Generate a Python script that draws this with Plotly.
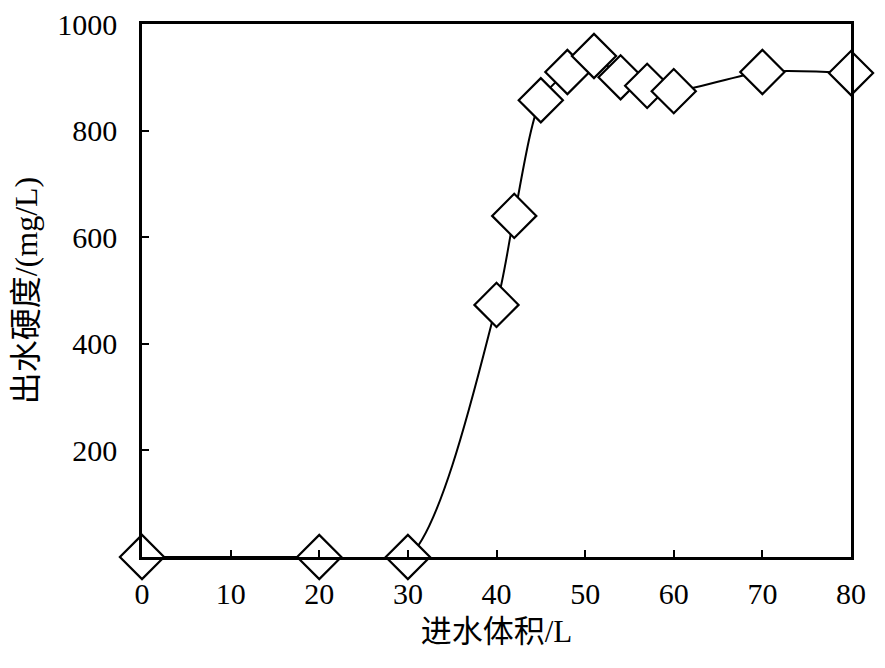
import plotly.graph_objects as go

x_vals = [0, 20, 30, 40, 42, 45, 48, 51, 54, 57, 60, 70, 80]
y_vals = [0, 0, 0, 473, 640, 857, 910, 940, 900, 884, 874, 910, 908]

x_ticks = [0, 10, 20, 30, 40, 50, 60, 70, 80]
y_ticks = [200, 400, 600, 800, 1000]

font_main = "Times New Roman, Liberation Serif, Noto Sans CJK SC, serif"

fig = go.Figure()
fig.add_trace(go.Scatter(
    x=x_vals, y=y_vals,
    mode="lines+markers",
    line=dict(color="black", width=2, shape="spline", smoothing=0.8),
    marker=dict(symbol="diamond", size=34, color="white",
                line=dict(color="black", width=2.2)),
    cliponaxis=False,
    showlegend=False,
))

fig.update_layout(
    width=877, height=660,
    margin=dict(l=134, r=34, t=16, b=111),
    paper_bgcolor="white", plot_bgcolor="white",
    font=dict(family=font_main, size=30, color="black"),
    xaxis=dict(
        range=[0, 80], tickvals=x_ticks, ticktext=[str(v) for v in x_ticks],
        ticks="inside", ticklen=7, tickwidth=1.5, tickcolor="black",
        showline=True, linecolor="black", linewidth=2.5, mirror=True,
        showgrid=False, zeroline=False, automargin=False,
        ticklabelstandoff=8, ticklabeloverflow="allow",
        title=dict(text="进水体积/L", font=dict(size=31), standoff=12),
        tickfont=dict(size=30),
    ),
    yaxis=dict(
        range=[0, 1000], tickvals=y_ticks, ticktext=[str(v) for v in y_ticks],
        ticks="inside", ticklen=7, tickwidth=1.5, tickcolor="black",
        showline=True, linecolor="black", linewidth=2.5, mirror=True,
        showgrid=False, zeroline=False, automargin=False,
        ticklabelstandoff=16, ticklabeloverflow="allow",
        title=dict(text="出水硬度/(mg/L)", font=dict(size=32), standoff=24),
        tickfont=dict(size=30),
    ),
)

fig.write_html("out.html")
